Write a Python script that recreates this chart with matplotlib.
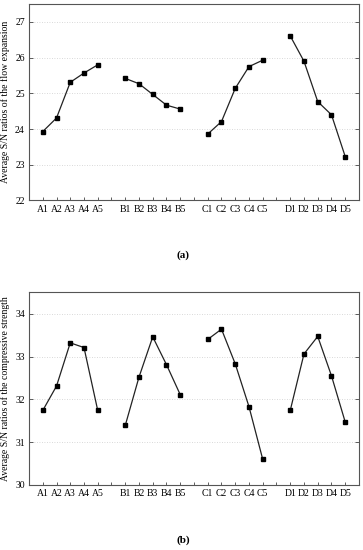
import matplotlib
matplotlib.use("Agg")
import matplotlib.pyplot as plt

groups = ["A", "B", "C", "D"]
levels = ["1", "2", "3", "4", "5"]

flow_A = [23.93, 24.31, 25.31, 25.57, 25.80]
flow_B = [25.42, 25.27, 24.97, 24.67, 24.56]
flow_C = [23.86, 24.21, 25.14, 25.75, 25.93]
flow_D = [26.61, 25.90, 24.77, 24.40, 23.23]

comp_A = [31.74, 32.31, 33.32, 33.21, 31.74]
comp_B = [31.39, 32.52, 33.46, 32.81, 32.11]
comp_C = [33.40, 33.64, 32.83, 31.83, 30.60]
comp_D = [31.74, 33.06, 33.47, 32.55, 31.47]

plt.rcParams['font.family'] = ['Liberation Serif', 'DejaVu Serif']

fig = plt.figure(figsize=(3.63, 5.5), dpi=100)

def panel(rect, series, ylim, yticks, ylabel, caption, cap_y):
    ax = fig.add_axes(rect)
    positions = []
    labels = []
    for gi, (g, vals) in enumerate(zip(groups, series)):
        xs = [gi * 6 + i for i in range(5)]
        ax.plot(xs, vals, color="#222222", lw=0.9, marker="s", ms=3.2,
                mfc="black", mec="black")
        positions += xs
        labels += [g + l for l in levels]
    ax.set_xlim(-1, 23)
    ax.set_ylim(*ylim)
    ax.set_xticks(positions)
    ax.set_xticklabels(labels, fontsize=7)
    ax.set_xticks(range(0, 23), minor=True)
    ax.set_yticks(yticks)
    ax.set_yticklabels([str(t) for t in yticks], fontsize=7)
    ax.tick_params(axis="x", which="both", direction="in", length=2.5,
                   width=0.6, color="#444444", pad=3)
    ax.tick_params(axis="y", direction="in", length=3, width=0.6,
                   color="#444444", right=True, pad=3)
    ax.grid(axis="y", linestyle=(0, (1, 2)), color="#cccccc", lw=0.6)
    for s in ax.spines.values():
        s.set_color("#555555")
        s.set_linewidth(0.8)
    ax.set_ylabel(ylabel, fontsize=7, labelpad=4)
    fig.text(0.505, cap_y, caption, ha="center", va="center",
             fontsize=8, fontweight="bold")
    return ax

panel([0.0799, 0.6355, 0.909, 0.357],
      [flow_A, flow_B, flow_C, flow_D], (22, 27.5), [22, 23, 24, 25, 26, 27],
      "Average S/N ratios of the flow expansion", "(a)", 1 - 255 / 550)

panel([0.0799, 0.1182, 0.909, 0.3503],
      [comp_A, comp_B, comp_C, comp_D], (30, 34.5), [30, 31, 32, 33, 34],
      "Average S/N ratios of the compressive strength", "(b)", 1 - 540 / 550)

fig.savefig("out.png", dpi=100)
